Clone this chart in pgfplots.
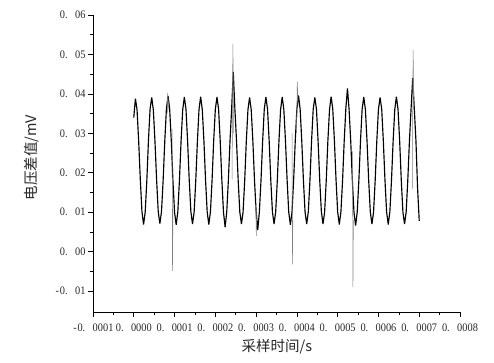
\documentclass[border=0pt]{standalone}
\usepackage{fontspec}
\usepackage{pgfplots}
\pgfplotsset{compat=1.18}
\usepackage{pgfplotstable}
\newfontfamily\cjk{Noto Sans CJK SC}
\newfontfamily\tickfont[FakeStretch=0.9]{Liberation Serif}
\newcommand{\pd}{\makebox[5pt][l]{.}\hspace{5pt}}
\newcommand{\mn}{\makebox[5pt]{-}}

\pgfplotstableread{
x y
0.000000 0.0340
0.000004 0.0388
0.000008 0.0360
0.000012 0.0280
0.000016 0.0183
0.000020 0.0102
0.000024 0.0069
0.000028 0.0100
0.000032 0.0180
0.000036 0.0282
0.000040 0.0362
0.000044 0.0391
0.000048 0.0359
0.000052 0.0279
0.000056 0.0182
0.000060 0.0101
0.000064 0.0071
0.000068 0.0102
0.000072 0.0181
0.000076 0.0280
0.000080 0.0361
0.000084 0.0395
0.000088 0.0362
0.000092 0.0281
0.000096 0.0180
0.000100 0.0100
0.000104 0.0068
0.000108 0.0101
0.000112 0.0182
0.000116 0.0281
0.000120 0.0360
0.000124 0.0392
0.000128 0.0361
0.000132 0.0280
0.000136 0.0181
0.000140 0.0102
0.000144 0.0070
0.000148 0.0100
0.000152 0.0180
0.000156 0.0279
0.000160 0.0361
0.000164 0.0393
0.000168 0.0360
0.000172 0.0281
0.000176 0.0182
0.000180 0.0101
0.000184 0.0069
0.000188 0.0101
0.000192 0.0181
0.000196 0.0282
0.000200 0.0361
0.000204 0.0392
0.000208 0.0361
0.000212 0.0280
0.000216 0.0181
0.000220 0.0100
0.000224 0.0062
0.000228 0.0101
0.000232 0.0182
0.000236 0.0281
0.000240 0.0362
0.000244 0.0456
0.000248 0.0361
0.000252 0.0280
0.000256 0.0181
0.000260 0.0101
0.000264 0.0070
0.000268 0.0100
0.000272 0.0180
0.000276 0.0281
0.000280 0.0360
0.000284 0.0391
0.000288 0.0360
0.000292 0.0281
0.000296 0.0182
0.000300 0.0102
0.000304 0.0055
0.000308 0.0101
0.000312 0.0181
0.000316 0.0280
0.000320 0.0361
0.000324 0.0392
0.000328 0.0361
0.000332 0.0281
0.000336 0.0181
0.000340 0.0101
0.000344 0.0070
0.000348 0.0101
0.000352 0.0181
0.000356 0.0280
0.000360 0.0360
0.000364 0.0392
0.000368 0.0360
0.000372 0.0281
0.000376 0.0182
0.000380 0.0100
0.000384 0.0068
0.000388 0.0100
0.000392 0.0181
0.000396 0.0281
0.000400 0.0362
0.000404 0.0396
0.000408 0.0361
0.000412 0.0280
0.000416 0.0181
0.000420 0.0101
0.000424 0.0070
0.000428 0.0101
0.000432 0.0180
0.000436 0.0281
0.000440 0.0361
0.000444 0.0391
0.000448 0.0361
0.000452 0.0280
0.000456 0.0181
0.000460 0.0102
0.000464 0.0070
0.000468 0.0100
0.000472 0.0181
0.000476 0.0281
0.000480 0.0360
0.000484 0.0393
0.000488 0.0361
0.000492 0.0281
0.000496 0.0182
0.000500 0.0101
0.000504 0.0069
0.000508 0.0101
0.000512 0.0180
0.000516 0.0280
0.000520 0.0362
0.000524 0.0414
0.000528 0.0360
0.000532 0.0281
0.000536 0.0181
0.000540 0.0100
0.000544 0.0066
0.000548 0.0101
0.000552 0.0181
0.000556 0.0281
0.000560 0.0361
0.000564 0.0392
0.000568 0.0360
0.000572 0.0280
0.000576 0.0182
0.000580 0.0101
0.000584 0.0070
0.000588 0.0100
0.000592 0.0181
0.000596 0.0281
0.000600 0.0361
0.000604 0.0391
0.000608 0.0361
0.000612 0.0280
0.000616 0.0181
0.000620 0.0101
0.000624 0.0069
0.000628 0.0101
0.000632 0.0181
0.000636 0.0280
0.000640 0.0360
0.000644 0.0393
0.000648 0.0361
0.000652 0.0281
0.000656 0.0181
0.000660 0.0100
0.000664 0.0070
0.000668 0.0101
0.000672 0.0182
0.000676 0.0281
0.000680 0.0362
0.000684 0.0440
0.000688 0.0361
0.000692 0.0280
0.000696 0.0160
0.000700 0.0078
}\signal

\begin{document}
\begin{tikzpicture}
\begin{axis}[
  scale only axis,
  width=367pt, height=297pt,
  xmin=-0.0001, xmax=0.0008,
  ymin=-0.0153, ymax=0.06,
  axis lines*=left,
  axis line style={line width=0.8pt},
  tick align=outside,
  major tick length=5pt,
  minor tick length=3pt,
  every tick/.style={black, line width=0.6pt},
  scaled ticks=false,
  xtick={-0.0001,0,0.0001,0.0002,0.0003,0.0004,0.0005,0.0006,0.0007,0.0008},
  xticklabels={\mn0\pd0001,0\pd0000,0\pd0001,0\pd0002,0\pd0003,0\pd0004,0\pd0005,0\pd0006,0\pd0007,0\pd0008},
  minor x tick num=1,
  ytick={-0.01,0,0.01,0.02,0.03,0.04,0.05,0.06},
  yticklabels={\mn0\pd01,0\pd00,0\pd01,0\pd02,0\pd03,0\pd04,0\pd05,0\pd06},
  minor y tick num=1,
  tick label style={font=\tickfont\fontsize{11.5}{12}\selectfont, black!85},
  xticklabel style={yshift=-3pt},
  yticklabel style={xshift=1pt},
  xlabel={\cjk 采样时间/s},
  ylabel={\cjk 电压差值/mV},
  xlabel style={at={(axis description cs:0.501,-0.118)}, anchor=center, font=\fontsize{14.5}{15}\selectfont, black!85},
  ylabel style={at={(axis description cs:-0.166,0.519)}, anchor=center, font=\fontsize{14.5}{15}\selectfont, black!85},
  clip=false,
]
\addplot[black, line width=1.15pt, line join=miter, miter limit=4] table[x=x,y=y] {\signal};
\addplot[gray, line width=0.5pt] coordinates {(0.0000820,0.0350) (0.0000830,0.0402) (0.0000860,0.0360)};
\addplot[gray, line width=0.5pt] coordinates {(0.0000940,0.0310) (0.0000950,-0.0049) (0.0000960,0.0110)};
\addplot[gray, line width=0.5pt] coordinates {(0.0002410,0.0184) (0.0002430,0.0527) (0.0002450,0.0300)};
\addplot[gray, line width=0.5pt] coordinates {(0.0002990,0.0120) (0.0003005,0.0040) (0.0003020,0.0100)};
\addplot[gray, line width=0.5pt] coordinates {(0.0003880,0.0300) (0.0003890,-0.0032) (0.0003900,0.0080)};
\addplot[gray, line width=0.5pt] coordinates {(0.0003990,0.0300) (0.0004010,0.0431) (0.0004030,0.0370)};
\addplot[gray, line width=0.5pt] coordinates {(0.0005365,0.0254) (0.0005375,-0.0090) (0.0005385,0.0080)};
\addplot[gray, line width=0.5pt] coordinates {(0.0006830,0.0160) (0.0006850,0.0512) (0.0006870,0.0360)};
\end{axis}
\pgfresetboundingbox
\path (-93pt,-51pt) rectangle (401pt,312pt);
\end{tikzpicture}
\end{document}
